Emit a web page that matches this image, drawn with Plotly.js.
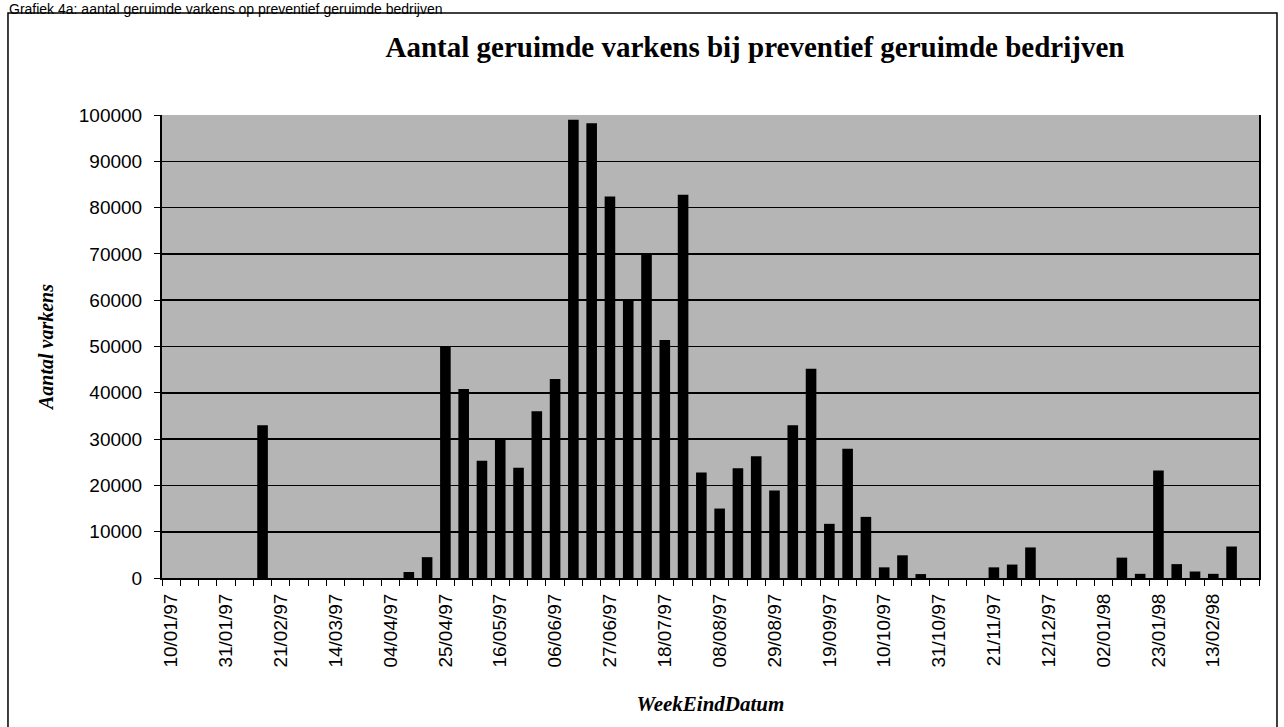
<!DOCTYPE html>
<html>
<head>
<meta charset="utf-8">
<script src="https://cdn.plot.ly/plotly-3.0.1.min.js"></script>
<style>
  html, body { margin: 0; padding: 0; background: #ffffff; }
  #chart { width: 1284px; height: 727px; }
</style>
</head>
<body>
<div id="chart"></div>
<script>
// Week-end dates (categories)
const weeks = [
  "10/01/97","17/01/97","24/01/97","31/01/97","07/02/97","14/02/97","21/02/97","28/02/97",
  "07/03/97","14/03/97","21/03/97","28/03/97","04/04/97","11/04/97","18/04/97","25/04/97",
  "02/05/97","09/05/97","16/05/97","23/05/97","30/05/97","06/06/97","13/06/97","20/06/97",
  "27/06/97","04/07/97","11/07/97","18/07/97","25/07/97","01/08/97","08/08/97","15/08/97",
  "22/08/97","29/08/97","05/09/97","12/09/97","19/09/97","26/09/97","03/10/97","10/10/97",
  "17/10/97","24/10/97","31/10/97","07/11/97","14/11/97","21/11/97","28/11/97","05/12/97",
  "12/12/97","19/12/97","26/12/97","02/01/98","09/01/98","16/01/98","23/01/98","30/01/98",
  "06/02/98","13/02/98","20/02/98","27/02/98"
];

// Number of culled pigs per week
const pigs = [
  0, 0, 0, 0, 0, 33000, 0, 0,
  0, 0, 0, 0, 0, 1300, 4500, 50000,
  40800, 25300, 30000, 23800, 36000, 43000, 99000, 98200,
  82400, 60000, 70000, 51400, 82800, 22800, 15000, 23700,
  26300, 18900, 33000, 45200, 11700, 27900, 13200, 2300,
  4900, 850, 0, 0, 0, 2300, 2900, 6600,
  0, 0, 0, 0, 4400, 900, 23200, 3000,
  1400, 900, 6800, 0
];

// Dates that carry a tick label on the x axis
const labelledWeeks = [
  "10/01/97","31/01/97","21/02/97","14/03/97","04/04/97","25/04/97","16/05/97",
  "06/06/97","27/06/97","18/07/97","08/08/97","29/08/97","19/09/97","10/10/97",
  "31/10/97","21/11/97","12/12/97","02/01/98","23/01/98","13/02/98"
];

const yTicks = [0, 10000, 20000, 30000, 40000, 50000, 60000, 70000, 80000, 90000, 100000];

const chartTitle = "Aantal geruimde varkens bij preventief geruimde bedrijven";
const xTitle = "WeekEindDatum";
const yTitle = "Aantal varkens";
const captionText = "Grafiek 4a: aantal geruimde varkens op preventief geruimde bedrijven";

const sans = "Arial, 'Liberation Sans', sans-serif";
const serif = "'Times New Roman', 'Liberation Serif', serif";

const trace = {
  type: "bar",
  x: weeks,
  y: pigs,
  marker: { color: "#000000", line: { width: 0 } },
  hoverinfo: "x+y"
};

const layout = {
  width: 1284,
  height: 727,
  margin: { l: 162, r: 25, t: 115, b: 149 },
  paper_bgcolor: "#ffffff",
  plot_bgcolor: "#b5b5b5",
  bargap: 0.42,
  showlegend: false,
  title: {
    text: "<b>" + chartTitle + "</b>",
    font: { family: serif, size: 29, color: "#000000" },
    x: 0.588, xanchor: "center",
    y: 0.935, yanchor: "middle"
  },
  xaxis: {
    type: "category",
    range: [-0.5, weeks.length - 0.5],
    tickvals: weeks,
    ticktext: weeks.map(w => labelledWeeks.includes(w) ? w : ""),
    tickangle: -90,
    tickson: "boundaries",
    ticks: "outside",
    ticklen: 6,
    tickwidth: 1,
    tickcolor: "#000000",
    ticklabelstandoff: 6,
    tickfont: { family: sans, size: 19, color: "#000000" },
    showline: true, linecolor: "#000000", linewidth: 2,
    mirror: false,
    showgrid: false,
    zeroline: false,
    fixedrange: true,
    title: {
      text: "<b><i>" + xTitle + "</i></b>",
      font: { family: serif, size: 21, color: "#000000" },
      standoff: 30
    }
  },
  yaxis: {
    range: [0, 100000],
    tickvals: yTicks,
    ticktext: yTicks.map(v => String(v)),
    ticks: "outside",
    ticklen: 6,
    tickwidth: 1,
    tickcolor: "#000000",
    ticklabelstandoff: 8,
    tickfont: { family: sans, size: 19, color: "#000000" },
    showline: true, linecolor: "#000000", linewidth: 2,
    mirror: true,
    showgrid: true, gridcolor: "#000000", gridwidth: 1.6,
    zeroline: false,
    fixedrange: true,
    title: {
      text: "<b><i>" + yTitle + "</i></b>",
      font: { family: serif, size: 20, color: "#000000" },
      standoff: 20
    }
  },
  shapes: [
    {
      type: "rect", xref: "paper", yref: "paper",
      x0: -0.1404, x1: 1.0164, y0: -0.35, y1: 1.2203,
      line: { color: "#000000", width: 1.5 },
      fillcolor: "rgba(0,0,0,0)",
      layer: "below"
    }
  ],
  annotations: [
    {
      text: captionText,
      xref: "paper", yref: "paper",
      x: -0.1404, xanchor: "left",
      y: 1.2484, yanchor: "top",
      borderpad: 0,
      showarrow: false,
      font: { family: sans, size: 14, color: "#000000" }
    }
  ]
};

Plotly.newPlot("chart", [trace], layout, { displayModeBar: false, staticPlot: true });
</script>
</body>
</html>
